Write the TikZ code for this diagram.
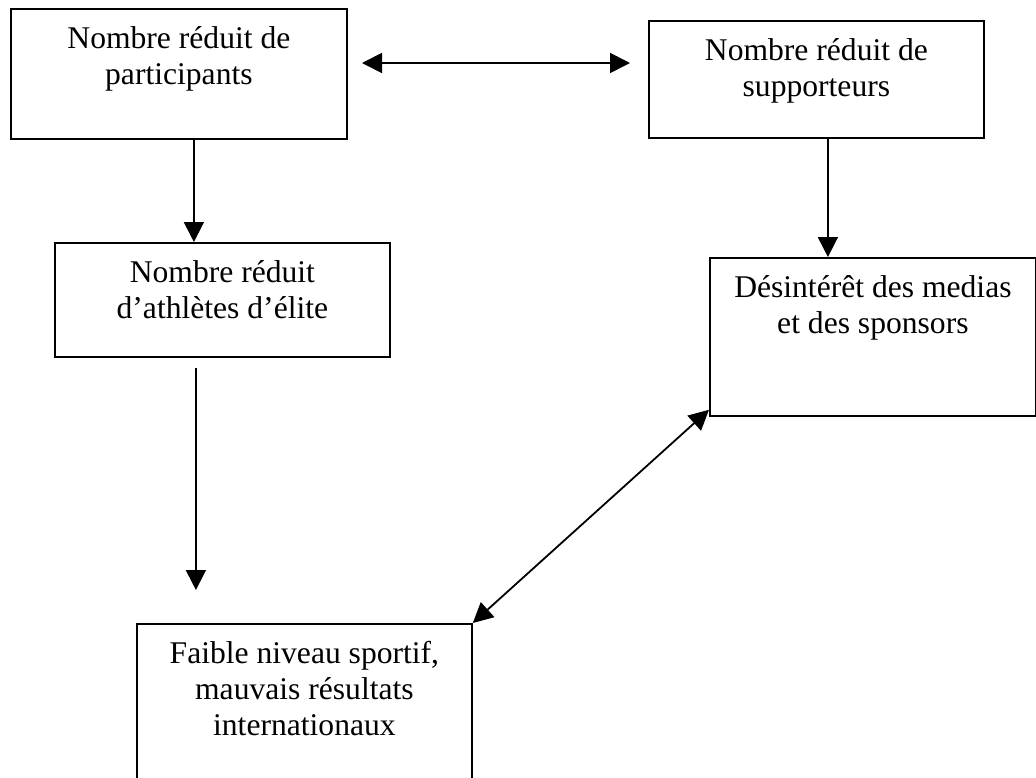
\documentclass[tikz,border=0pt]{standalone}
\usepackage{fontspec}
\setmainfont{Liberation Serif}
\usetikzlibrary{arrows.meta}
\begin{document}
\begin{tikzpicture}[x=1pt,y=-1pt,
  box/.style={draw, line width=1.8pt, rectangle, inner sep=0pt, anchor=north west},
  txt/.style={align=center, inner sep=0pt, anchor=north, font=\fontsize{31.6}{36}\selectfont},
  arr/.style={line width=1.8pt, -{Triangle[length=20pt,width=20pt]}},
  darr/.style={line width=1.8pt, {Triangle[length=20pt,width=20pt]}-{Triangle[length=20pt,width=20pt]}}]
\useasboundingbox (0,0) rectangle (1036,777);
\clip (0,0) rectangle (1036,777);
% boxes
\node[box, minimum width=336pt, minimum height=130pt] (A) at (10,8) {};
\node[box, minimum width=335pt, minimum height=117pt] (B) at (648,20) {};
\node[box, minimum width=335pt, minimum height=114pt] (C) at (54,242) {};
\node[box, minimum width=326pt, minimum height=158pt] (D) at (709,257) {};
\node[box, minimum width=335pt, minimum height=180pt] (E) at (136,623) {};
% texts
\node[txt] (tA) at ([yshift=-18pt]A.north) {Nombre réduit de\\participants};
\node[txt] (tB) at ([yshift=-18pt]B.north) {Nombre réduit de\\supporteurs};
\node[txt] (tC) at ([yshift=-18pt]C.north) {Nombre réduit\\d’athlètes d’élite};
\node[txt] (tD) at ([yshift=-18pt]D.north) {Désintérêt des medias\\et des sponsors};
\node[txt] (tE) at ([yshift=-18pt]E.north) {Faible niveau sportif,\\mauvais résultats\\internationaux};
% connectors
\coordinate (L) at (362,63);
\coordinate (R) at (630,63);
\draw[darr] (L) -- (R);
\draw[arr] ([xshift=15pt]A.south) -- ([xshift=15pt]A.south |- C.north);
\draw[arr] ([xshift=11.5pt]B.south) -- ([xshift=11.5pt]B.south |- D.north);
\draw[arr] ([xshift=-26.5pt,yshift=-10pt]C.south) -- ([xshift=-26.5pt,yshift=33pt]C.south |- E.north);
\draw[darr] (E.north east) -- ([yshift=7pt]D.south west);
\end{tikzpicture}
\end{document}
